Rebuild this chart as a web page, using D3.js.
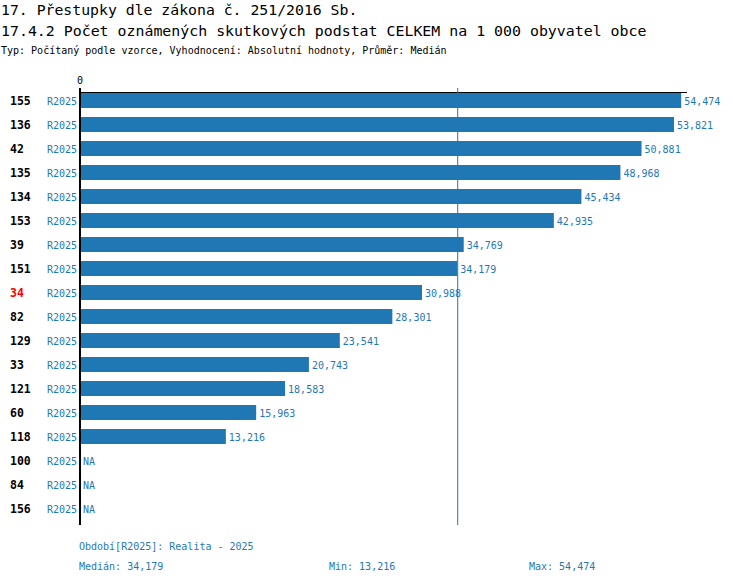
<!DOCTYPE html>
<html>
<head>
<meta charset="utf-8">
<script src="https://cdn.jsdelivr.net/npm/d3@7"></script>
<style>
  body { margin: 0; background: #fff; }
  text { font-family: "DejaVu Sans Mono", monospace; }
</style>
</head>
<body>
<div id="chart"></div>
<script>
// DATA
var codes = ["155", "136", "42", "135", "134", "153", "39", "151", "34", "82", "129", "33", "121", "60", "118", "100", "84", "156"];
var periods = ["R2025", "R2025", "R2025", "R2025", "R2025", "R2025", "R2025", "R2025", "R2025", "R2025", "R2025", "R2025", "R2025", "R2025", "R2025", "R2025", "R2025", "R2025"];
var values = [54.474, 53.821, 50.881, 48.968, 45.434, 42.935, 34.769, 34.179, 30.988, 28.301, 23.541, 20.743, 18.583, 15.963, 13.216, null, null, null];
var highlight = "34";
var median = 34.179, minVal = 13.216, maxVal = 54.474;

var titles = [
  "17. Přestupky dle zákona č. 251/2016 Sb.",
  "17.4.2 Počet oznámených skutkových podstat CELKEM na 1 000 obyvatel obce"
];
var subtitle = "Typ: Počítaný podle vzorce, Vyhodnocení: Absolutní hodnoty, Průměr: Medián";
var footer = "Období[R2025]: Realita - 2025";

var blue = "#1f77b4";
// czech style output with comma as decimal mark
var fmt = function (v) { return d3.format(".3f")(v).replace(".", ","); };

var W = 750, H = 584;
var svg = d3.select("#chart").append("svg")
  .attr("width", W)
  .attr("height", H);

// titles
svg.append("text").attr("x", 1).attr("y", 15)
  .style("font-size", "14.8px").text(titles[0]);
svg.append("text").attr("x", 1).attr("y", 36)
  .style("font-size", "14.9px").text(titles[1]);
svg.append("text").attr("x", 1).attr("y", 54)
  .style("font-size", "10px").text(subtitle);

// scales
var x = d3.scaleLinear().domain([0, 55]).range([80, 687]);
var y = d3.scaleBand()
  .domain(codes)
  .range([88.5, 88.5 + 24 * codes.length])
  .paddingInner(0.375)
  .paddingOuter(0.1875);

// top axis line and zero label
svg.append("line")
  .attr("x1", x(0)).attr("x2", x(55))
  .attr("y1", 92.5).attr("y2", 92.5)
  .attr("stroke", "#000").attr("stroke-width", 1);
svg.append("text").attr("x", x(0)).attr("y", 84)
  .attr("text-anchor", "middle")
  .style("font-size", "10px").text("0");

// rows
codes.forEach(function (c, i) {
  var v = values[i];
  var yy = y(c);
  var mid = yy + y.bandwidth() / 2;
  svg.append("text")
    .attr("x", 10).attr("y", mid + 4)
    .style("font-size", "11.5px").style("font-weight", "bold")
    .attr("fill", c === highlight ? "#ff0000" : "#000")
    .text(c);
  svg.append("text")
    .attr("x", 77).attr("y", mid + 4)
    .attr("text-anchor", "end")
    .style("font-size", "10px")
    .attr("fill", blue)
    .text(periods[i]);
  if (v != null) {
    svg.append("rect")
      .attr("x", x(0)).attr("y", yy)
      .attr("width", x(v) - x(0)).attr("height", y.bandwidth())
      .attr("fill", blue);
    svg.append("text")
      .attr("x", x(v) + 3).attr("y", mid + 4)
      .style("font-size", "10px")
      .attr("fill", blue)
      .text(fmt(v));
  } else {
    svg.append("text")
      .attr("x", x(0) + 3).attr("y", mid + 4)
      .style("font-size", "10px")
      .attr("fill", blue)
      .text("NA");
  }
});

// median line
svg.append("line")
  .attr("x1", x(median) + 0.5).attr("x2", x(median) + 0.5)
  .attr("y1", 88).attr("y2", 525)
  .attr("stroke", blue).attr("stroke-width", 1);

// vertical axis
svg.append("line")
  .attr("x1", x(0)).attr("x2", x(0))
  .attr("y1", 88).attr("y2", 525)
  .attr("stroke", "#000").attr("stroke-width", 2);

// footer
svg.append("text").attr("x", 79).attr("y", 550)
  .style("font-size", "10px").attr("fill", blue).text(footer);
svg.append("text").attr("x", 79).attr("y", 570)
  .style("font-size", "10px").attr("fill", blue).text("Medián: " + fmt(median));
svg.append("text").attr("x", 329).attr("y", 570)
  .style("font-size", "10px").attr("fill", blue).text("Min: " + fmt(minVal));
svg.append("text").attr("x", 529).attr("y", 570)
  .style("font-size", "10px").attr("fill", blue).text("Max: " + fmt(maxVal));
</script>
</body>
</html>
